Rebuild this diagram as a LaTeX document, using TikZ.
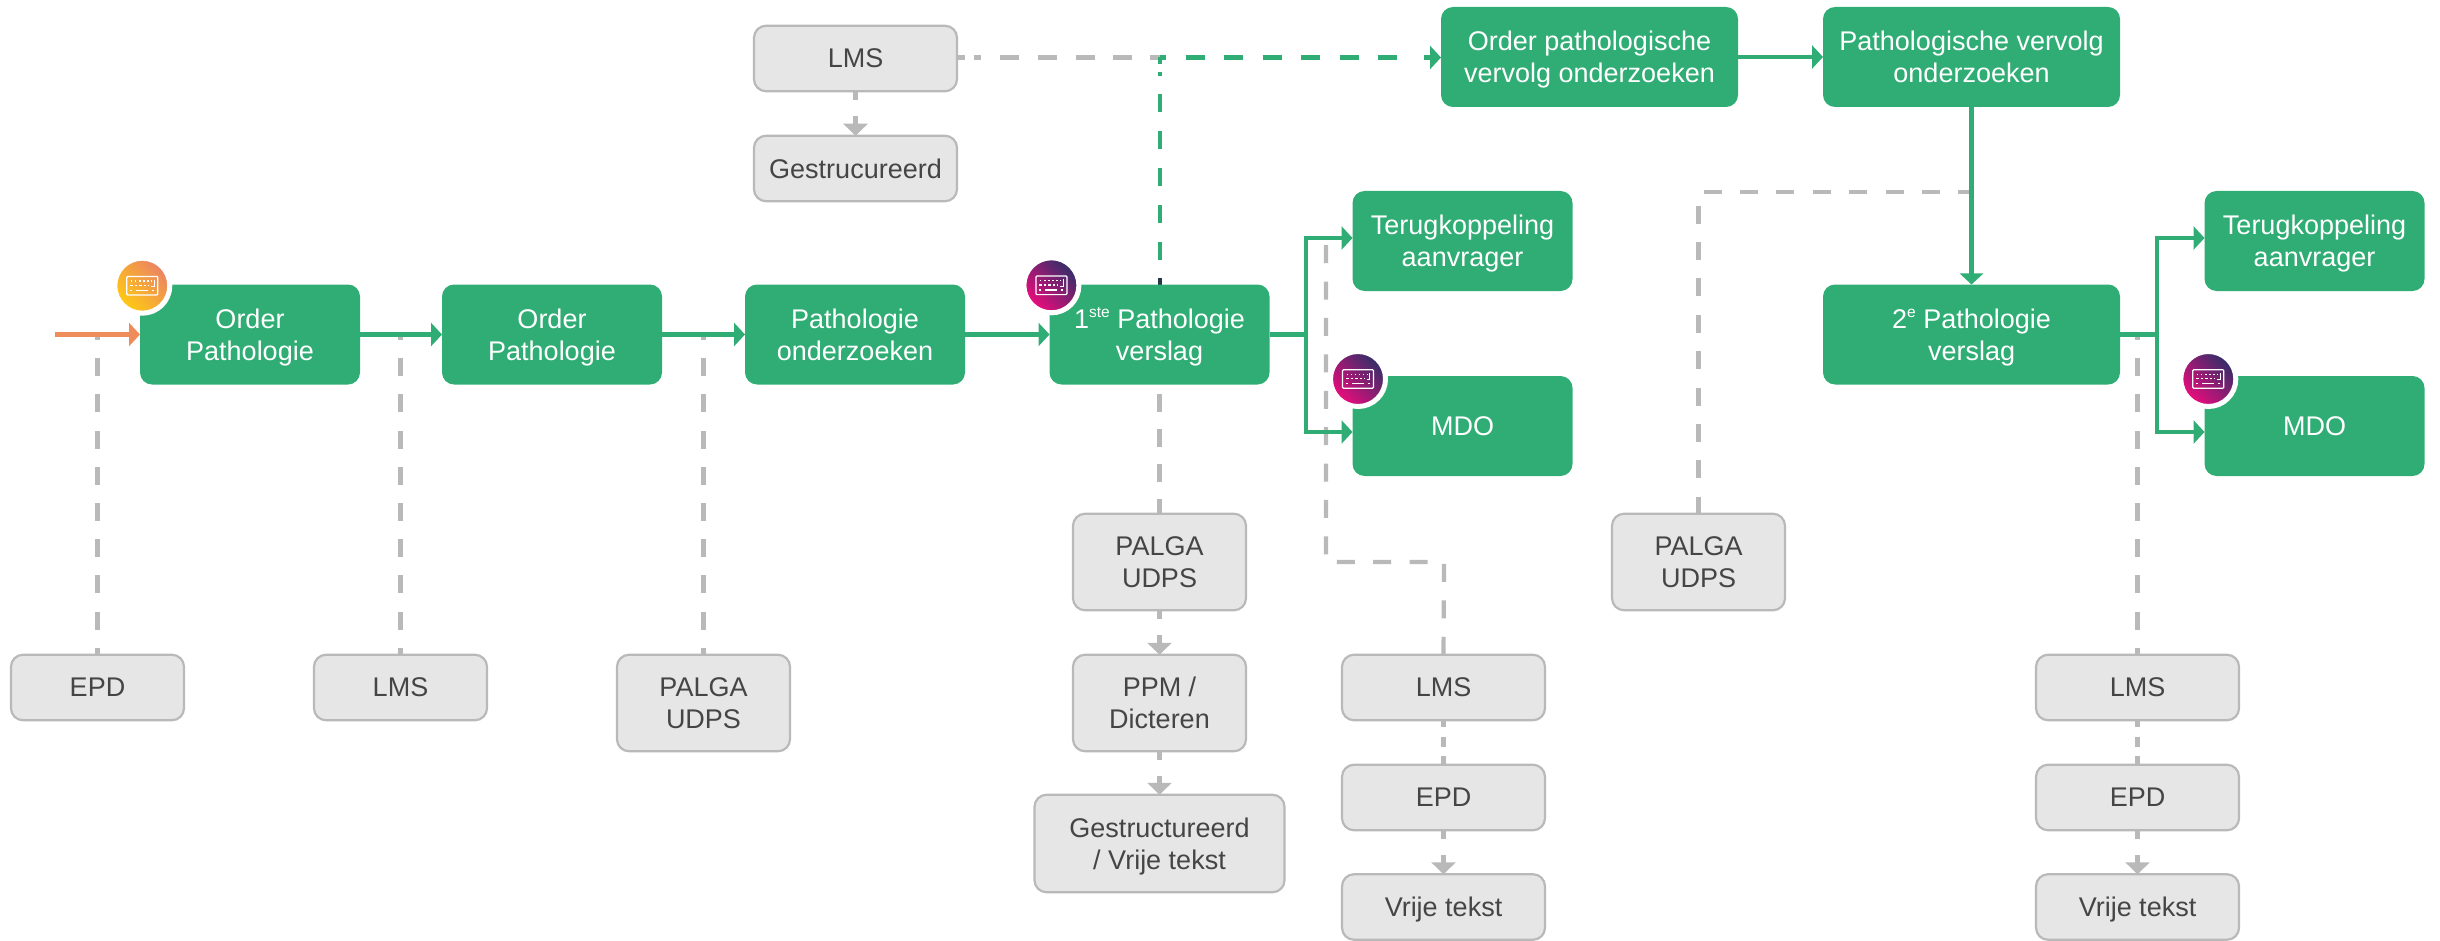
\documentclass[tikz,border=0pt]{standalone}
\usepackage{fontspec}
\setmainfont{Liberation Sans}
\usetikzlibrary{arrows.meta,backgrounds}
\definecolor{gboxc}{HTML}{2FAD74}
\definecolor{wfill}{HTML}{E6E6E6}
\definecolor{wline}{HTML}{B9B9B9}
\definecolor{wtext}{HTML}{454545}
\definecolor{orangec}{HTML}{EE8C5A}
\definecolor{orangetop}{RGB}{235,129,102}
\definecolor{orangey}{RGB}{255,204,16}
\definecolor{purp}{RGB}{47,47,104}
\definecolor{magen}{RGB}{238,11,125}
\definecolor{darkbit}{HTML}{23394A}
\newcommand{\supx}[1]{\smash{\raisebox{10.5pt}{\fontsize{15.5}{16}\selectfont #1}}}
\tikzset{
  anybox/.style={rectangle,rounded corners=12pt,inner sep=0pt,outer sep=0pt,align=center,
    font=\fontsize{27}{32}\selectfont,text depth=0pt},
  gbox/.style={anybox,fill=gboxc,text=white,minimum width=220pt,minimum height=100pt},
  gboxw/.style={gbox,minimum width=297pt},
  wbox/.style={anybox,fill=wfill,draw=wline,line width=2.2pt,text=wtext,minimum width=173pt,minimum height=96.5pt},
  wshort/.style={wbox,minimum height=65.5pt},
  wwide/.style={wshort,minimum width=203pt},
  gline/.style={draw=gboxc,line width=4.2pt},
  garrow/.style={gline,-{Triangle[length=11pt,width=23pt,fill=gboxc]}},
  oarrow/.style={draw=orangec,line width=4.5pt,-{Triangle[length=11pt,width=23pt,fill=orangec]}},
  wdash/.style={draw=wline,line width=4.2pt,dash pattern=on 18pt off 18.4pt},
  wstem/.style={draw=wline,line width=4.2pt,dash pattern=on 18pt off 18.2pt,dash phase=11pt},
  wsmall/.style={draw=wline,line width=4.2pt,dash pattern=on 9pt off 16pt,-{Triangle[length=12pt,width=24pt,fill=wline]}},
  wlink/.style={draw=wline,line width=4.2pt,dash pattern=on 7pt off 10pt on 10pt off 9pt on 8pt off 9pt},
  iconbase/.style={circle,draw=white,line width=5pt,minimum size=55pt,inner sep=0pt,outer sep=0pt},
  iconor/.style={iconbase,top color=orangetop,bottom color=orangey,shading angle=-45},
  iconma/.style={iconbase,top color=purp,bottom color=magen,shading angle=-45},
  keyboard/.pic={
    \draw[white,line width=1.2pt,rounded corners=1pt] (-15.5,-9.3) rectangle (15.5,9.3);
    \draw[white,line width=1.3pt,dash pattern=on 1.5pt off 2.6pt] (-11.5,-4.6) -- (10,-4.6);
    \draw[white,line width=1.3pt,dash pattern=on 2.5pt off 2pt] (-12,-0.3) -- (7,-0.3);
    \draw[white,line width=1.1pt] (11.8,-6) -- (11.8,0.8) -- (8.5,0.8);
    \draw[white,line width=1.4pt] (-12,4.6) -- (-10,4.6) (-6,4.6) -- (5.5,4.6) (9.5,4.6) -- (11.5,4.6);
  }
}
\begin{document}
\begin{tikzpicture}[x=1pt,y=-1pt]
\useasboundingbox (0,0) rectangle (2440,941);
% green boxes
\node[gbox] (o1) at (250,334.5) {Order\\Pathologie};
\node[gbox] (o2) at (552,334.5) {Order\\Pathologie};
\node[gbox] (o3) at (855,334.5) {Pathologie\\onderzoeken};
\node[gbox] (v1) at (1159.5,334.5) {1\supx{ste} Pathologie\\verslag};
\node[gbox] (t1) at (1462.5,241) {Terugkoppeling\\aanvrager};
\node[gbox] (m1) at (1462.5,426) {MDO};
\node[gboxw] (a1) at (1589.5,57) {Order pathologische\\vervolg onderzoeken};
\node[gboxw] (a2) at (1971.5,57) {Pathologische vervolg\\onderzoeken};
\node[gboxw] (v2) at (1971.5,334.5) {2\supx{e} Pathologie\\verslag};
\node[gbox] (t2) at (2314.5,241) {Terugkoppeling\\aanvrager};
\node[gbox] (m2) at (2314.5,426) {MDO};
% grey boxes
\node[wwide] (lt) at (855.5,58.5) {LMS};
\node[wwide] (gt) at (855.5,168.5) {Gestrucureerd};
\node[wshort] (e1) at (97.5,687.5) {EPD};
\node[wshort] (l1) at (400.5,687.5) {LMS};
\node[wbox] (p1) at (703.5,703) {PALGA\\UDPS};
\node[wbox] (p2) at (1159.5,562) {PALGA\\UDPS};
\node[wbox] (pp) at (1159.5,703) {PPM /\\Dicteren};
\node[wbox,minimum width=250pt,minimum height=97.5pt] (gs) at (1159.5,843.5) {Gestructureerd\\/ Vrije tekst};
\node[wwide] (l2) at (1443.5,687.5) {LMS};
\node[wwide] (e2) at (1443.5,797.5) {EPD};
\node[wwide] (f2) at (1443.5,907) {Vrije tekst};
\node[wbox] (p3) at (1698.5,562) {PALGA\\UDPS};
\node[wwide] (l3) at (2137.5,687.5) {LMS};
\node[wwide] (e3) at (2137.5,797.5) {EPD};
\node[wwide] (f3) at (2137.5,907) {Vrije tekst};
% icons
\node[iconor] (i1) at (142.3,285.7) {};
\node[iconma] (i2) at (1051.4,285.3) {};
\node[iconma] (i3) at (1358,379) {};
\node[iconma] (i4) at (2208.3,379) {};
\pic (k1) at (i1) {keyboard};
\pic (k2) at (i2) {keyboard};
\pic (k3) at (i3) {keyboard};
\pic (k4) at (i4) {keyboard};
% free ends and bends
\coordinate (start) at (55,334.5);
\coordinate (j1) at (1306,334.5);
\coordinate (j2) at (2157,334.5);
\coordinate (c1) at (1159.5,57.5);
\coordinate (c2) at (1444,562);
\coordinate (c3) at (1326,562);
\coordinate (c4) at (1326,244);
\coordinate (c5) at (1971.5,192.3);
\coordinate (ar1) at (1167,57.5);
\coordinate (dk) at (1159.5,278);
\begin{pgfonlayer}{background}
% grey connectors
\draw[wstem] (e1.north) -- (e1.north |- o1.west);
\draw[wstem] (l1.north) -- (l1.north |- o1.west);
\draw[wstem] (p1.north) -- (p1.north |- o1.west);
\draw[wstem] (l3.north) -- (l3.north |- v2.east);
\draw[draw=wline,line width=4.2pt,dash pattern=on 18pt off 17pt,dash phase=3pt] (p2.north) -- (v1.south);
\draw[wdash] (l2.north) -- (c2) -- (c3) -- (c4);
\draw[wdash,dash phase=1pt] (p3.north) |- (c5);
\draw[draw=wline,line width=4.2pt,dash pattern=on 8pt off 9pt on 7pt off 19pt on 19pt off 19pt on 19pt off 19pt on 19pt off 18pt on 19pt off 18pt on 16pt off 300pt] (lt.east |- c1) -- (ar1);
\draw[wsmall] (lt.south) -- (gt.north);
\draw[wsmall] (p2.south) -- (pp.north);
\draw[wsmall] (pp.south) -- (gs.north);
\draw[wsmall] (e2.south) -- (f2.north);
\draw[wsmall] (e3.south) -- (f3.north);
\draw[wlink] (l2.south) -- (e2.north);
\draw[wlink] (l3.south) -- (e3.north);
% green connectors
\draw[draw=gboxc,line width=4pt,dash pattern=on 0pt off 24pt on 18pt off 19pt on 18pt off 19pt on 18pt off 19pt on 18pt off 19pt on 18pt off 18pt on 4pt off 8pt on 10pt off 100pt] (v1.north) -- (c1);
\draw[draw=darkbit,line width=4pt] (dk) -- (v1.north);
\draw[garrow,dash pattern=on 6.7pt off 19.3pt on 19pt off 19.5pt on 19pt off 19.5pt on 19pt off 19.5pt on 19pt off 19.5pt on 19pt off 19.5pt on 19pt off 27pt on 30pt off 10pt] (c1) -- (a1.west |- c1);
\draw[oarrow] (start) -- (o1.west);
\draw[garrow] (o1.east) -- (o2.west);
\draw[garrow] (o2.east) -- (o3.west);
\draw[garrow] (o3.east) -- (v1.west);
\draw[gline] (v1.east) -- (j1);
\draw[garrow] (j1) |- (t1.west |- 0,238);
\draw[garrow] (j1) |- (m1.west |- 0,432);
\draw[garrow] (a1.east) -- (a2.west);
\draw[garrow] (a2.south) -- (v2.north);
\draw[gline] (v2.east) -- (j2);
\draw[garrow] (j2) |- (t2.west |- 0,238);
\draw[garrow] (j2) |- (m2.west |- 0,432);
\end{pgfonlayer}
\end{tikzpicture}
\end{document}
